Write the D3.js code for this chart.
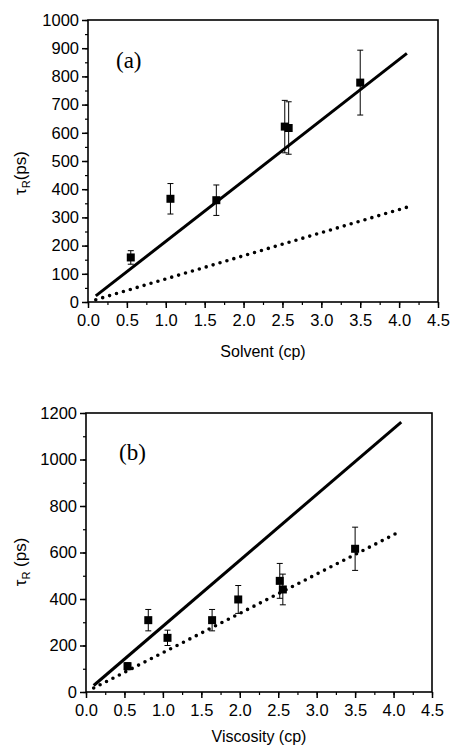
<!DOCTYPE html>
<html>
<head>
<meta charset="utf-8">
<script src="https://cdn.jsdelivr.net/npm/d3@7"></script>
<style>
  html, body { margin: 0; padding: 0; background: #fff; }
  svg { display: block; }
</style>
</head>
<body>
<svg id="chart" width="451" height="748"></svg>
<script>
// Panel (a): rotational time vs solvent viscosity
const aVisc = [0.55, 1.06, 1.65, 2.53, 2.58, 3.50];
const aTau = [158, 366, 361, 622, 617, 778];
const aErr = [24, 54, 54, 93, 93, 115];

// Panel (b): rotational time vs viscosity
const bVisc = [0.54, 0.81, 1.06, 1.64, 1.98, 2.52, 2.56, 3.50];
const bTau = [111, 309, 233, 309, 398, 478, 441, 616];
const bErr = [15, 46, 33, 46, 60, 75, 66, 93];

// Model lines (stick / slip), evaluated at the two ends of the range
const fitVisc = [0.1, 4.1];
const aStick = [21.5, 881.5];
const aSlip = [8.2, 336];
const bStick = [28, 1161];
const bSlip = [17, 693];

const xTicks = [0, 0.5, 1, 1.5, 2, 2.5, 3, 3.5, 4, 4.5];
const aYTicks = [0, 100, 200, 300, 400, 500, 600, 700, 800, 900, 1000];
const bYTicks = [0, 200, 400, 600, 800, 1000, 1200];

const SANS = "'Liberation Sans', Arial, sans-serif";
const SERIF = "'Liberation Serif', 'Times New Roman', serif";

const svg = d3.select("#chart");

function panel(cfg) {
  const g = svg.append("g");
  const x = d3.scaleLinear().domain([0, 4.5]).range([cfg.left, cfg.right]);
  const y = d3.scaleLinear().domain([0, cfg.yMax]).range([cfg.bottom, cfg.top]);

  // minor ticks
  const xMinor = d3.range(0, 4.5001, 0.25);
  const yMinor = d3.range(0, cfg.yMax + 0.001, cfg.yMinorStep);
  g.append("g")
    .attr("transform", `translate(0,${cfg.bottom})`)
    .call(d3.axisBottom(x).tickValues(xMinor).tickSize(3).tickFormat(""))
    .call(a => a.select(".domain").remove())
    .selectAll("line").attr("stroke-width", 1.2);
  g.append("g")
    .attr("transform", `translate(${cfg.left},0)`)
    .call(d3.axisLeft(y).tickValues(yMinor).tickSize(3).tickFormat(""))
    .call(a => a.select(".domain").remove())
    .selectAll("line").attr("stroke-width", 1.2);

  // major ticks with labels
  const xa = g.append("g")
    .attr("transform", `translate(0,${cfg.bottom})`)
    .call(d3.axisBottom(x).tickValues(xTicks).tickSize(6).tickPadding(6)
      .tickFormat(d3.format(".1f")));
  xa.select(".domain").remove();
  xa.selectAll("line").attr("stroke-width", 1.5);
  xa.selectAll("text").style("font-size", "16.5px").style("font-family", SANS).attr("fill", "#000");

  const ya = g.append("g")
    .attr("transform", `translate(${cfg.left},0)`)
    .call(d3.axisLeft(y).tickValues(cfg.yTicks).tickSize(6).tickPadding(3)
      .tickFormat(d3.format("d")));
  ya.select(".domain").remove();
  ya.selectAll("line").attr("stroke-width", 1.5);
  ya.selectAll("text").style("font-size", "16.5px").style("font-family", SANS).attr("fill", "#000");

  // frame
  g.append("rect")
    .attr("x", cfg.left).attr("y", cfg.top)
    .attr("width", cfg.right - cfg.left).attr("height", cfg.bottom - cfg.top)
    .attr("fill", "none").attr("stroke", "#000").attr("stroke-width", 1.6);

  // model lines
  const line = d3.line().x(d => x(d[0])).y(d => y(d[1]));
  g.append("path")
    .datum(fitVisc.map((v, i) => [v, cfg.stick[i]]))
    .attr("d", line).attr("fill", "none").attr("stroke", "#000")
    .attr("stroke-width", 3);
  g.append("path")
    .datum(fitVisc.map((v, i) => [v, cfg.slip[i]]))
    .attr("d", line).attr("fill", "none").attr("stroke", "#000")
    .attr("stroke-width", 3.6).attr("stroke-linecap", "round")
    .attr("stroke-dasharray", "0 7.2");

  // error bars
  const pts = cfg.xs.map((v, i) => ({ x: v, y: cfg.ys[i], e: cfg.es[i] }));
  const eb = g.append("g").attr("stroke", "#000").attr("stroke-width", 1);
  pts.forEach(p => {
    eb.append("line").attr("x1", x(p.x)).attr("x2", x(p.x))
      .attr("y1", y(p.y - p.e)).attr("y2", y(p.y + p.e));
    [p.y - p.e, p.y + p.e].forEach(v => {
      eb.append("line").attr("x1", x(p.x) - 3).attr("x2", x(p.x) + 3)
        .attr("y1", y(v)).attr("y2", y(v));
    });
  });

  // squares
  g.append("g").selectAll("rect").data(pts).join("rect")
    .attr("x", d => x(d.x) - 4).attr("y", d => y(d.y) - 4)
    .attr("width", 8).attr("height", 8).attr("fill", "#000");

  // panel label
  g.append("text")
    .attr("x", cfg.labelX).attr("y", cfg.labelY)
    .style("font-family", SERIF).style("font-size", "23px")
    .text(cfg.label);

  // axis titles
  g.append("text")
    .attr("x", (cfg.left + cfg.right) / 2).attr("y", cfg.xTitleY)
    .attr("text-anchor", "middle")
    .style("font-family", SANS).style("font-size", "16px")
    .text(cfg.xTitle);

  const yt = g.append("text")
    .attr("transform", `translate(${cfg.yTitleX},${cfg.yTitleY}) rotate(-90)`)
    .attr("text-anchor", "middle")
    .style("font-family", SANS).style("font-size", "17px");
  yt.append("tspan").text("τ");
  yt.append("tspan").style("font-size", "11px").attr("dy", 4).text("R");
  yt.append("tspan").attr("dy", -4).text(cfg.yTitleRest);
}

panel({
  left: 88, right: 438, top: 20, bottom: 302, yMax: 1000, yMinorStep: 50,
  yTicks: aYTicks, xs: aVisc, ys: aTau, es: aErr, stick: aStick, slip: aSlip,
  label: "(a)", labelX: 116, labelY: 68,
  xTitle: "Solvent (cp)", xTitleY: 357,
  yTitleX: 26, yTitleY: 173, yTitleRest: "(ps)"
});

panel({
  left: 86, right: 432, top: 413, bottom: 692, yMax: 1200, yMinorStep: 100,
  yTicks: bYTicks, xs: bVisc, ys: bTau, es: bErr, stick: bStick, slip: bSlip,
  label: "(b)", labelX: 119, labelY: 460,
  xTitle: "Viscosity (cp)", xTitleY: 742,
  yTitleX: 26, yTitleY: 562, yTitleRest: " (ps)"
});
</script>
</body>
</html>
